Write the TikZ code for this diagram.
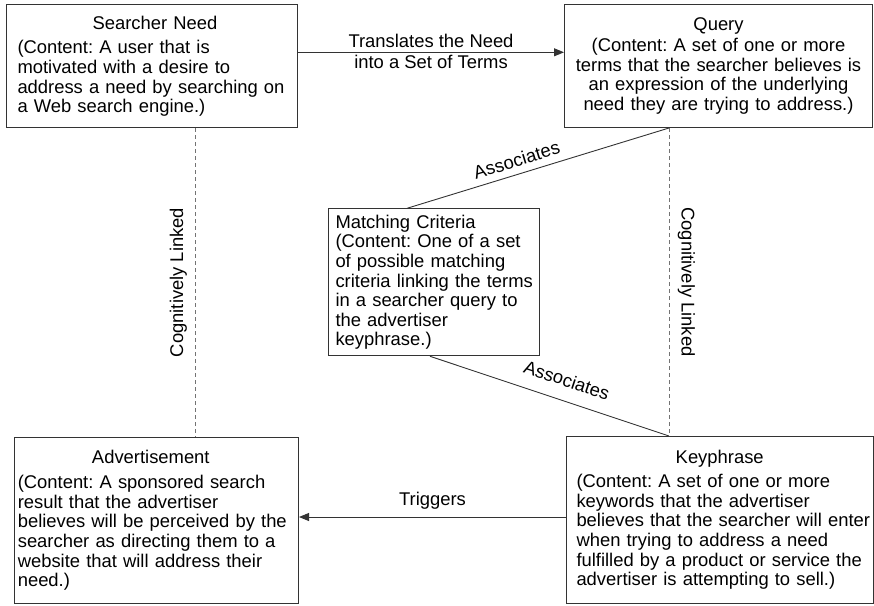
\documentclass[tikz,border=0pt]{standalone}
\usepackage{fontspec}
\setmainfont{Liberation Sans}
\usetikzlibrary{arrows.meta}

% one unbreakable line of box text
\newcommand{\oneline}[1]{\mbox{#1}}

\tikzset{
  txt/.style={font=\fontsize{18.4pt}{19.6pt}\selectfont\frenchspacing, text=black},
  card/.style={txt, draw=black!80, line width=1pt, rectangle, inner ysep=0pt,
               anchor=north west, align=left},
  link/.style={draw=black!80, line width=0.9pt},
  flow/.style={link, -{Triangle[length=10pt,width=8pt]}},
  cog/.style={draw=black!55, line width=1pt, dash pattern=on 4pt off 3pt},
  tag/.style={txt, inner sep=0pt},
}

\begin{document}
\begin{tikzpicture}[x=1pt, y=-1pt]
  \useasboundingbox (0,0) rectangle (874,605);

  % concept boxes
  \node[card, inner xsep=11pt, text width=269pt, minimum height=122.7pt] (need) at (6,4.3)
    {\makebox[275pt]{Searcher Need}\\[5pt]
     \oneline{(Content: A user that is}\\
     \oneline{motivated with a desire to}\\
     \oneline{address a need by searching on}\\
     \oneline{a Web search engine.)}};

  \node[card, align=center, inner xsep=6pt, text width=296pt, minimum height=122.7pt] (query) at (564,4.3)
    {Query\\[1.4pt]
     \oneline{(Content: A set of one or more}\\
     \oneline{terms that the searcher believes is}\\
     \oneline{an expression of the underlying}\\
     \oneline{need they are trying to address.)}};

  \node[card, inner xsep=7pt, text width=197pt, minimum height=147pt] (match) at (328,208.3)
    {\oneline{Matching Criteria}\\
     \oneline{(Content: One of a set}\\
     \oneline{of possible matching}\\
     \oneline{criteria linking the terms}\\
     \oneline{in a searcher query to}\\
     \oneline{the advertiser}\\
     \oneline{keyphrase.)}};

  \node[card, inner xsep=3.3pt, text width=277.4pt, minimum height=166pt] (ad) at (14,437)
    {\makebox[266pt]{Advertisement}\\[5.4pt]
     \oneline{(Content: A sponsored search}\\
     \oneline{result that the advertiser}\\
     \oneline{believes will be perceived by the}\\
     \oneline{searcher as directing them to a}\\
     \oneline{website that will address their}\\
     \oneline{need.)}};

  \node[card, inner xsep=10pt, text width=286.7pt, minimum height=167pt] (key) at (566,436)
    {\makebox[286.4pt]{Keyphrase}\\[4.4pt]
     \oneline{(Content: A set of one or more}\\
     \oneline{keywords that the advertiser}\\
     \oneline{believes that the searcher will enter}\\
     \oneline{when trying to address a need}\\
     \oneline{fulfilled by a product or service the}\\
     \oneline{advertiser is attempting to sell.)}};

  % reference positions for the connectors
  \coordinate (ty) at (0,52.3);
  \coordinate (by) at (0,517);
  \coordinate (lx) at (195.7,0);
  \coordinate (rx) at (669,0);
  \coordinate (ma) at (407,0);
  \coordinate (mb) at (430,0);

  % directed relations
  \draw[flow] (need.east |- ty) -- (query.west |- ty)
    node[tag, midway, anchor=base, yshift=5.3pt] (tr1) {Translates the Need}
    node[tag, midway, anchor=base, yshift=-15.7pt] (tr2) {into a Set of Terms};

  \draw[flow] (key.west |- by) -- (ad.east |- by)
    node[tag, midway, anchor=base, yshift=12pt] (trig) {Triggers};

  % cognitive links
  \draw[cog] (need.south -| lx) -- (ad.north -| lx)
    node[txt, midway, rotate=90, anchor=south, inner sep=8.3pt] (cl1) {Cognitively Linked};
  \draw[cog] (query.south -| rx) -- (key.north -| rx)
    node[txt, midway, rotate=-90, anchor=south, inner sep=8.3pt] (cl2) {Cognitively Linked};

  % associations through the matching criteria
  \draw[link] (match.north -| ma) -- (query.south -| rx)
    node[txt, pos=0.434, sloped, anchor=south, inner sep=6.85pt] (as1) {Associates};
  \draw[link] (match.south -| mb) -- (key.north -| rx)
    node[txt, pos=0.545, sloped, anchor=south, inner sep=13.5pt] (as2) {Associates};
\end{tikzpicture}
\end{document}
